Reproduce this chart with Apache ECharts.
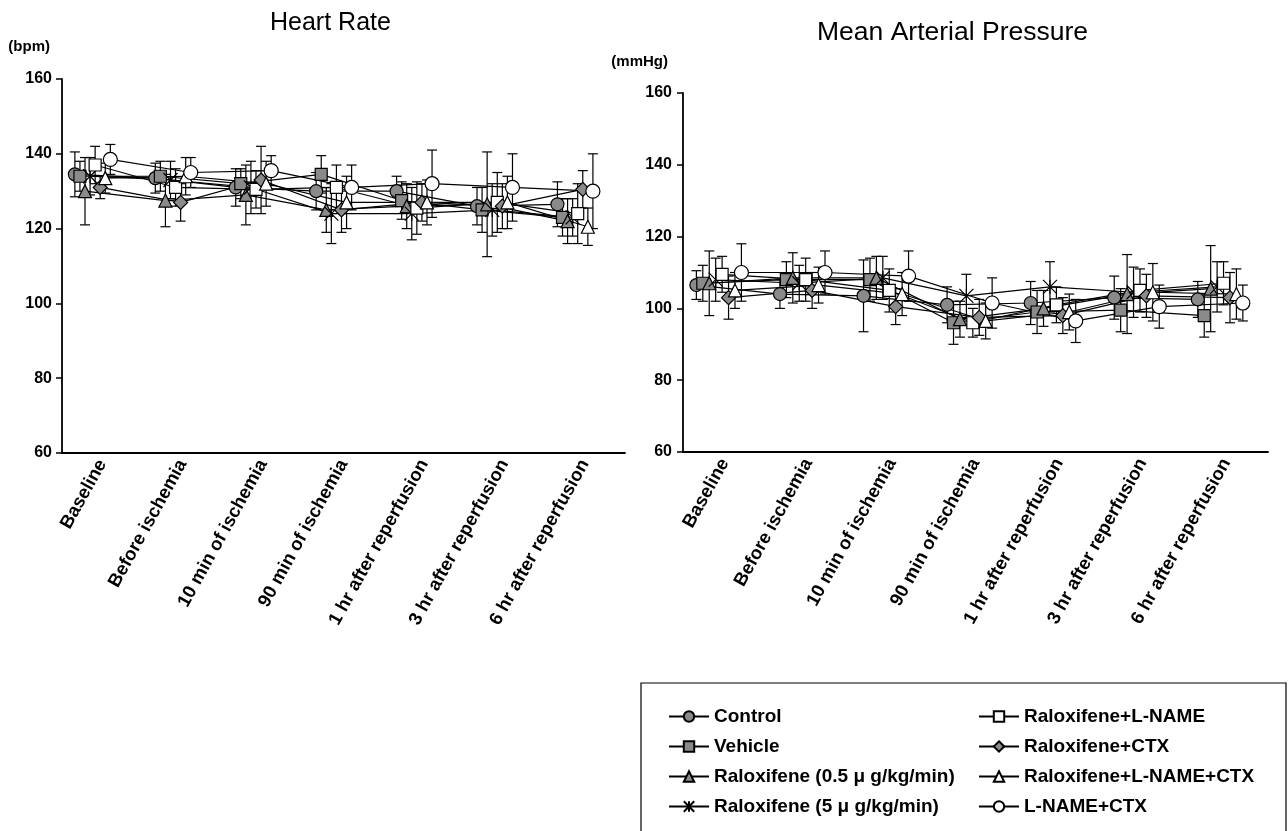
<!DOCTYPE html>
<html><head><meta charset="utf-8">
<script src="https://cdn.jsdelivr.net/npm/echarts@6/dist/echarts.min.js"></script>
<style>html,body{margin:0;padding:0;background:#fff}#c{width:1288px;height:831px}</style>
</head><body><div id="c"></div>
<script>
// ---------- DATA ----------
const timeLabels = ['Baseline','Before ischemia','10 min of ischemia','90 min of ischemia','1 hr after reperfusion','3 hr after reperfusion','6 hr after reperfusion'];
const groupNames = ['Control','Vehicle','Raloxifene (0.5 μ g/kg/min)','Raloxifene (5 μ g/kg/min)','Raloxifene+L-NAME','Raloxifene+CTX','Raloxifene+L-NAME+CTX','L-NAME+CTX'];

// Heart rate (bpm), mean
const hrControl      = [134.5, 133.5, 131, 130, 130, 126, 126.5];
const hrVehicle      = [134, 134, 132, 134.5, 127.5, 125, 123];
const hrRal05        = [130, 127.5, 129, 125, 126, 126.5, 122];
const hrRal5         = [134, 133, 131, 124, 124, 125, 123];
const hrRalLname     = [137, 131, 130.5, 131, 125.5, 127, 124];
const hrRalCtx       = [131, 127, 133, 125, 127, 126, 130.5];
const hrRalLnameCtx  = [133.5, 134, 132, 127, 127, 127, 120.5];
const hrLnameCtx     = [138.5, 135, 135.5, 131, 132, 131, 130];
// Heart rate, error (SD)
const hrControlErr     = [6, 4, 5, 5, 4, 5, 6];
const hrVehicleErr     = [4, 4, 4, 5, 5, 6, 5];
const hrRal05Err       = [9, 7, 8, 6, 6, 14, 6];
const hrRal5Err        = [5, 5, 7, 8, 7, 7, 5];
const hrRalLnameErr    = [5, 5, 5, 6, 7, 8, 8];
const hrRalCtxErr      = [3, 5, 9, 6, 5, 6, 5];
const hrRalLnameCtxErr = [4, 5, 6, 7, 6, 7, 5];
const hrLnameCtxErr    = [4, 4, 4, 6, 9, 9, 10];

// Mean arterial pressure (mmHg), mean
const mapControl     = [106.5, 104, 103.5, 101, 101.5, 103, 102.5];
const mapVehicle     = [107, 108, 108, 96, 99, 99.5, 98];
const mapRal05       = [107, 108.5, 108.5, 97, 100, 104, 105.5];
const mapRal5        = [108, 107, 108.5, 103.5, 106, 104.5, 106];
const mapRalLname    = [109.5, 108, 105, 96, 101, 105, 107];
const mapRalCtx      = [103, 105, 100.5, 97.5, 98, 103.5, 103];
const mapRalLnameCtx = [105, 106.5, 104, 96.5, 99, 104.5, 104];
const mapLnameCtx    = [110, 110, 109, 101.5, 96.5, 100.5, 101.5];
// Mean arterial pressure, error (SD)
const mapControlErr     = [4, 4, 10, 5, 6, 6, 5];
const mapVehicleErr     = [5, 5, 6, 6, 6, 6, 6];
const mapRal05Err       = [9, 7, 6, 5, 5, 11, 12];
const mapRal5Err        = [6, 5, 6, 6, 7, 7, 7];
const mapRalLnameErr    = [5, 6, 6, 4, 5, 6, 6];
const mapRalCtxErr      = [6, 5, 5, 5, 5, 6, 7];
const mapRalLnameCtxErr = [5, 5, 6, 5, 5, 8, 7];
const mapLnameCtxErr    = [8, 6, 7, 7, 6, 6, 5];

const yMin = 60, yMax = 160, yStep = 20;

// ---------- BUILD ----------
const hrMeans = [hrControl, hrVehicle, hrRal05, hrRal5, hrRalLname, hrRalCtx, hrRalLnameCtx, hrLnameCtx];
const hrErrs  = [hrControlErr, hrVehicleErr, hrRal05Err, hrRal5Err, hrRalLnameErr, hrRalCtxErr, hrRalLnameCtxErr, hrLnameCtxErr];
const mapMeans = [mapControl, mapVehicle, mapRal05, mapRal5, mapRalLname, mapRalCtx, mapRalLnameCtx, mapLnameCtx];
const mapErrs  = [mapControlErr, mapVehicleErr, mapRal05Err, mapRal5Err, mapRalLnameErr, mapRalCtxErr, mapRalLnameCtxErr, mapLnameCtxErr];

const GRAY = '#8a8a8a';
const FONT = '"Liberation Sans", Arial, Helvetica, sans-serif';
const styles = [
  {symbol:'circle', fill:GRAY, size:13},
  {symbol:'rect', fill:GRAY, size:12},
  {symbol:'triangle', fill:GRAY, size:13},
  {symbol:'path://M0,0L10,10M10,0L0,10M5,0L5,10', fill:'#000', size:14},
  {symbol:'rect', fill:'#fff', size:12},
  {symbol:'diamond', fill:GRAY, size:14},
  {symbol:'triangle', fill:'#fff', size:13},
  {symbol:'circle', fill:'#fff', size:14}
];
// horizontal dodge of each group within a time slot (layout only)
const dodge = [
  s => -0.34 + s * 0.063,
  s => -0.34 + s * 0.077
];

function errRender(params, api) {
  const x = api.value(0), lo = api.value(1), hi = api.value(2);
  const a = api.coord([x, lo]), b = api.coord([x, hi]);
  const hw = 5;
  const st = {stroke:'#000', lineWidth:1.2, fill:null};
  return {type:'group', children:[
    {type:'line', shape:{x1:a[0], y1:a[1], x2:b[0], y2:b[1]}, style:st},
    {type:'line', shape:{x1:b[0]-hw, y1:b[1], x2:b[0]+hw, y2:b[1]}, style:st},
    {type:'line', shape:{x1:a[0]-hw, y1:a[1], x2:a[0]+hw, y2:a[1]}, style:st}
  ]};
}

const series = [];
[[hrMeans, hrErrs], [mapMeans, mapErrs]].forEach(([means, errs], g) => {
  means.forEach((vals, s) => {
    const off = dodge[g](s);
    series.push({
      type:'custom', name: groupNames[s] + ' SD', xAxisIndex: g*2+1, yAxisIndex: g,
      renderItem: errRender, encode:{x:0, y:[1,2]}, z:1, silent:true,
      data: vals.map((v, i) => [i + off, v - errs[s][i], v + errs[s][i]])
    });
  });
  means.forEach((vals, s) => {
    const off = dodge[g](s);
    const st = styles[s];
    series.push({
      type:'line', name: groupNames[s], xAxisIndex: g*2+1, yAxisIndex: g, z:3,
      symbol: st.symbol, symbolSize: st.size, showAllSymbol:true,
      lineStyle:{color:'#000', width:1.2},
      itemStyle:{color: st.fill, borderColor:'#000', borderWidth:1.2},
      emphasis:{disabled:true},
      data: vals.map((v, i) => [i + off, v])
    });
  });
});

const catAxis = (gi) => ({
  gridIndex: gi, type:'category', data: timeLabels, boundaryGap:true,
  axisLine:{onZero:false, lineStyle:{color:'#000', width:1.8}}, axisTick:{show:false},
  axisLabel:{rotate:61, interval:0, margin:8, color:'#000', fontSize:18.5, fontWeight:'bold', fontFamily:FONT},
  splitLine:{show:false}
});
const valXAxis = (gi) => ({gridIndex: gi, type:'value', min:-0.5, max:6.5, show:false,
  axisLine:{onZero:false}});
const yAx = (gi, name, pad, gap, margin) => ({
  gridIndex: gi, type:'value', min:yMin, max:yMax, interval:yStep,
  name: name, nameLocation:'end', nameGap: gap,
  nameTextStyle:{align:'right', verticalAlign:'middle', padding:[0,pad,0,0], color:'#000', fontSize:15, fontWeight:'bold', fontFamily:FONT},
  axisLine:{show:true, onZero:false, lineStyle:{color:'#000', width:1.8}},
  axisTick:{show:true, inside:false, length:6, lineStyle:{color:'#000', width:1.5}},
  axisLabel:{margin: margin, color:'#000', fontSize:16, fontWeight:'bold', fontFamily:FONT},
  splitLine:{show:false}
});

const legendBase = {
  orient:'vertical', itemWidth:40, itemHeight:13, itemGap:11,
  textStyle:{color:'#000', fontSize:19, fontWeight:'bold', fontFamily:FONT, lineHeight:19},
  selectedMode:false
};

const option = {
  backgroundColor:'#fff',
  animation:false,
  title:[
    {text:'Heart Rate', left:265, top:6, textStyle:{fontSize:25, fontWeight:'normal', color:'#000', fontFamily:FONT}},
    {text:'Mean Arterial Pressure', left:812, top:14, textStyle:{fontSize:26.5, fontWeight:'normal', color:'#000', fontFamily:FONT}}
  ],
  grid:[
    {left:62, right:663, top:79, bottom:378, containLabel:false, outerBoundsMode:'none'},
    {left:683, right:20, top:93, bottom:379, containLabel:false, outerBoundsMode:'none'}
  ],
  xAxis:[catAxis(0), valXAxis(0), catAxis(1), valXAxis(1)],
  yAxis:[yAx(0, '(bpm)', 12, 32, 10), yAx(1, '(mmHg)', 15, 31, 11)],
  legend:[
    Object.assign({left:663, top:702, data: groupNames.slice(0,4)}, legendBase),
    Object.assign({left:973, top:702, data: groupNames.slice(4)}, legendBase)
  ],
  graphic:[
    {type:'rect', shape:{x:641, y:683, width:645, height:160}, style:{fill:'none', stroke:'#000', lineWidth:1.2}, z:-1}
  ],
  series: series
};

const chart = echarts.init(document.getElementById('c'), null, {renderer:'canvas'});
chart.setOption(option);
</script>
</body></html>
